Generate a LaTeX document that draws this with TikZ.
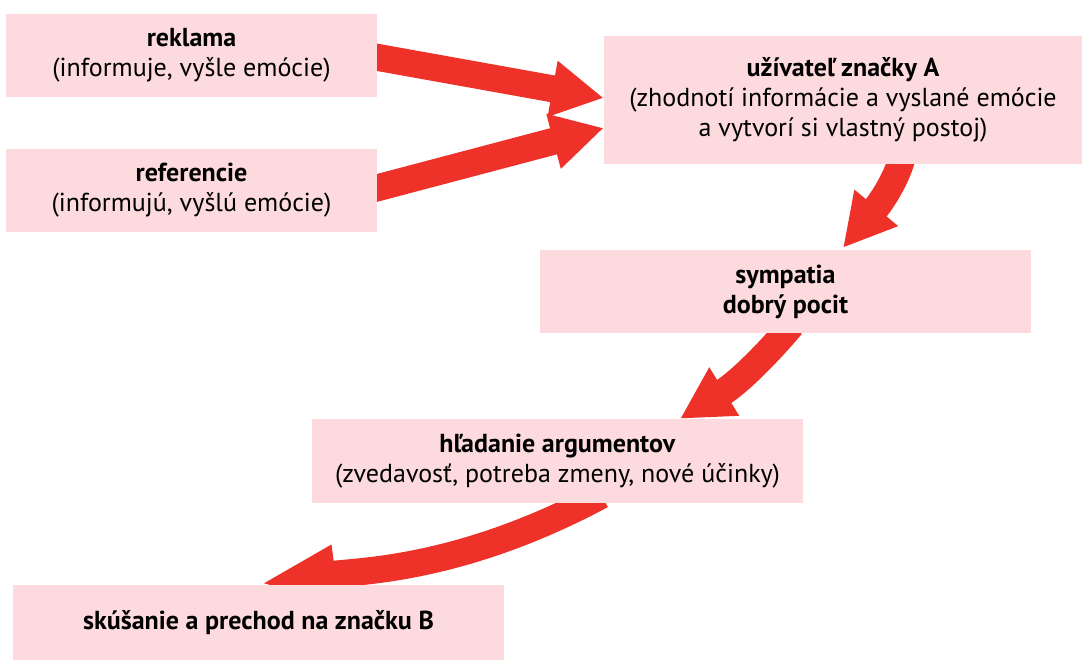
\documentclass[tikz,border=0pt]{standalone}
\usepackage{fontspec}
\setmainfont{PT Sans}
\usetikzlibrary{arrows.meta}
\definecolor{boxpink}{RGB}{252,218,222}
\definecolor{arrred}{RGB}{238,50,41}
\pgfdeclarelayer{bg}
\pgfsetlayers{bg,main}
\begin{document}
\begin{tikzpicture}[x=1pt,y=-1pt,
  box/.style={fill=boxpink, inner sep=0pt, align=center, font=\fontsize{26}{30}\selectfont},
  bigarrow/.style={draw=arrred, line width=27pt, -{Triangle[width=53pt,length=52pt]}},
  longarrow/.style={draw=arrred, line width=27pt, -{Triangle[width=53pt,length=76pt]}}]
\useasboundingbox (0,0) rectangle (1083,662);
\node[box, minimum width=371pt, minimum height=83pt] (r1) at (191.5,55.5) {\textbf{reklama}\\(informuje, vyšle emócie)};
\node[box, minimum width=371pt, minimum height=83pt] (r2) at (191.5,190.5) {\textbf{referencie}\\(informujú, vyšlú emócie)};
\node[box, minimum width=478pt, minimum height=128pt] (b3) at (843,100) {\textbf{užívateľ značky A}\\(zhodnotí informácie a vyslané emócie\\a vytvorí si vlastný postoj)};
\node[box, minimum width=491pt, minimum height=83pt] (b4) at (785.5,291.5) {\textbf{sympatia}\\\textbf{dobrý pocit}};
\node[box, minimum width=491pt, minimum height=84pt] (b5) at (557.5,461) {\textbf{hľadanie argumentov}\\(zvedavosť, potreba zmeny, nové účinky)};
\node[box, minimum width=491pt, minimum height=75pt] (b6) at (258.5,622.5) {\textbf{skúšanie a prechod na značku B}};
\begin{pgfonlayer}{bg}
\draw[bigarrow] ([xshift=-10pt]r1.east) -- ([yshift=2pt]b3.west);
\draw[bigarrow] ([xshift=-10pt]r2.east) -- ([yshift=-28pt]b3.west);
\draw[bigarrow] ([xshift=60pt,yshift=10pt]b3.south) .. controls +(-5,22) and +(40,-48) .. ([xshift=57.5pt,yshift=2pt]b4.north);
\draw[bigarrow] ([xshift=6pt,yshift=8pt]b4.south) .. controls +(-20,24) and +(60,-37) .. ([xshift=122.5pt]b5.north);
\draw[longarrow] ([xshift=44pt,yshift=8pt]b5.south) .. controls +(-140,75) and +(100,-13) .. ([xshift=1.5pt,yshift=1pt]b6.north);
\end{pgfonlayer}
\end{tikzpicture}
\end{document}
